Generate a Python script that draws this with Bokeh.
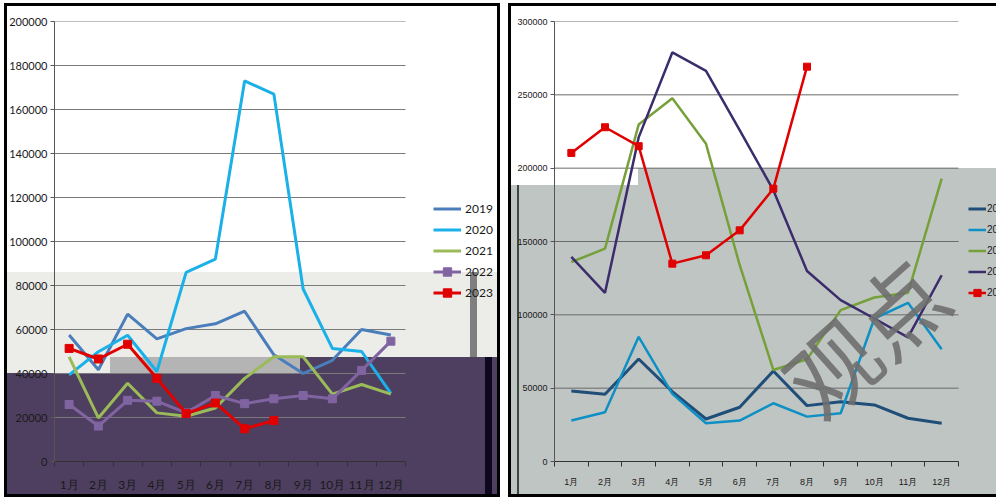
from bokeh.plotting import figure
from bokeh.models import (FixedTicker, Legend, LegendItem, Label,
                          BasicTickFormatter, Range1d)
from bokeh.layouts import row
from bokeh.embed import file_html
from bokeh.resources import INLINE

months = ["1月", "2月", "3月", "4月", "5月", "6月", "7月", "8月", "9月", "10月", "11月", "12月"]
years = ["2019", "2020", "2021", "2022", "2023"]

# left chart
left_2019 = [57500, 41700, 67000, 55700, 60400, 62600, 68300, 48500, 40000, 46000, 60000, 57500]
left_2020 = [39400, 49900, 57400, 40900, 86000, 92000, 173000, 167000, 78400, 51400, 50000, 31000]
left_2021 = [47600, 19800, 35600, 22100, 20600, 24300, 37800, 47600, 47600, 30600, 35000, 30600]
left_2022 = [25900, 16100, 27800, 27400, 22100, 30000, 26300, 28500, 30000, 28500, 41400, 54700]
left_2023 = [51400, 46600, 53300, 37800, 21800, 26600, 14900, 18600]
left_yticks = [0, 20000, 40000, 60000, 80000, 100000, 120000, 140000, 160000, 180000, 200000]

# right chart
right_2019 = [48100, 45800, 69900, 47600, 29000, 37000, 61700, 38100, 40800, 38600, 29500, 26100]
right_2020 = [27900, 33600, 85000, 46100, 26100, 27900, 39700, 30600, 32900, 97500, 108200, 76500]
right_2021 = [136000, 145100, 229700, 247600, 216600, 134000, 62400, 69700, 103200, 111800, 115000, 192800]
right_2022 = [139500, 115000, 221000, 278900, 266400, 226000, 185000, 129900, 110000, 97500, 84600, 127000]
right_2023 = [210400, 227900, 215000, 134900, 140600, 157600, 186000, 269200]
right_yticks = [0, 50000, 100000, 150000, 200000, 250000, 300000]

H = 498
N = len(months)
xs = [i + 0.5 for i in range(N)]


def css_bg(blocks, base="white"):
    layers = []
    for (x, y, w, h, c) in blocks:
        layers.append(f"linear-gradient({c},{c}) {x}px {y}px / {w}px {h}px no-repeat")
    layers.append(base)
    return ", ".join(layers)


def base(width, mbl, mbb, months_w, ymax, yticks, font_size, lab_font, grid_color, bg):
    frame_w = width - mbl
    x_end = N * frame_w / months_w
    p = figure(width=width, height=H, x_range=Range1d(0, x_end), y_range=Range1d(0, ymax),
               output_backend="svg", toolbar_location=None,
               min_border_left=mbl, min_border_right=0, min_border_top=21, min_border_bottom=mbb)
    p.styles = {"background": bg}
    p.outline_line_color = None
    p.background_fill_alpha = 0
    p.border_fill_alpha = 0
    p.xgrid.visible = False
    p.ygrid.visible = False
    p.segment(x0=[0] * len(yticks), x1=[N] * len(yticks), y0=yticks, y1=yticks,
              line_color=grid_color, line_width=1, level="underlay")
    p.xaxis.bounds = (0, N)
    p.xaxis.ticker = FixedTicker(ticks=xs, minor_ticks=list(range(N + 1)))
    p.xaxis.major_label_overrides = {x: m for x, m in zip(xs, months)}
    p.xaxis.major_tick_line_color = None
    p.xaxis.minor_tick_out = 5
    p.xaxis.minor_tick_in = 0
    p.xaxis.minor_tick_line_color = "#333333"
    p.xaxis.axis_line_color = "#333333"
    p.xaxis.major_label_standoff = 9
    p.yaxis.ticker = FixedTicker(ticks=yticks)
    p.yaxis.formatter = BasicTickFormatter(use_scientific=False)
    p.yaxis.minor_tick_line_color = None
    p.yaxis.major_tick_out = 4
    p.yaxis.major_tick_in = 0
    p.yaxis.major_tick_line_color = "#555555"
    p.yaxis.axis_line_color = "#555555"
    p.yaxis.major_label_standoff = 3
    for ax in (p.xaxis, p.yaxis):
        ax.major_label_text_font_size = font_size
        ax.major_label_text_font = lab_font
        ax.major_label_text_color = "#1a1a1a"
    return p


# ---------------- left figure ----------------
LW = 500
left_bg = css_bg([
    # frame border
    (4, 3, 3, 494, "#000000"),
    (497, 3, 3, 494, "#000000"),
    (4, 3, 496, 3, "#000000"),
    (4, 494, 496, 3, "#000000"),
    # glitch blocks
    (485, 357, 7, 137, "#0d0820"),
    (470, 272, 7, 85, "#7f7f7f"),
    (110, 357, 190, 16, "#b4b4b4"),
    (7, 357, 103, 16, "#ecece9"),
    (7, 357, 490, 137, "#4e3f60"),
    (7, 272, 490, 85, "#ecece9"),
])
pl = base(LW, 54, 37, 351, 200000, left_yticks, "11px", "Lato", "#7a7a7a", left_bg)
pl.xaxis.major_label_text_font_size = "12px"

lcol = ["#4a7ebb", "#1ab0e8", "#9bbb59", "#8064a2", "#e00000"]
lser = [left_2019, left_2020, left_2021, left_2022, left_2023]
items = []
for yr, c, ser in zip(years, lcol, lser):
    xx = xs[:len(ser)]
    rs = [pl.line(xx, ser, line_color=c, line_width=3)]
    if yr in ("2022", "2023"):
        rs.append(pl.scatter(xx, ser, marker="square", size=8, fill_color=c, line_color=c))
    items.append(LegendItem(label=yr, renderers=rs))
leg = Legend(items=items, location=(379, 158), padding=0, margin=0, spacing=0,
             label_height=21, glyph_height=21, glyph_width=28, label_standoff=4,
             label_text_font_size="12px", label_text_font="Lato", label_text_color="#1a1a1a",
             border_line_color=None, background_fill_alpha=0)
pl.add_layout(leg)

# ---------------- right figure ----------------
RW = 488
right_bg = css_bg([
    # frame border (right edge runs past the window)
    (0, 3, 3, 494, "#000000"),
    (0, 3, RW, 3, "#000000"),
    (0, 494, RW, 3, "#000000"),
    # glitch blocks
    (9, 185, 2, 309, "#3c4742"),
    (130, 168, RW - 130, 326, "#bfc5c3"),
    (3, 185, RW - 3, 309, "#bfc5c3"),
])
pr = base(RW, 46, 36, 404, 300000, right_yticks, "9px", "Liberation Sans", "#6a6a6a", right_bg)

rcol = ["#1f4e79", "#0e90c4", "#76a03a", "#3b2d6b", "#e00000"]
rwid = [3, 2.5, 2.5, 2.5, 2.5]
rser = [right_2019, right_2020, right_2021, right_2022, right_2023]
ritems = []
for yr, c, w, ser in zip(years, rcol, rwid, rser):
    xx = xs[:len(ser)]
    rs = [pr.line(xx, ser, line_color=c, line_width=w)]
    if yr == "2023":
        rs.append(pr.scatter(xx, ser, marker="square", size=7, fill_color=c, line_color=c))
    ritems.append(LegendItem(label=yr, renderers=rs))
rleg = Legend(items=ritems, location=(414, 158), padding=0, margin=0, spacing=0,
              label_height=21, glyph_height=21, glyph_width=18, label_standoff=1,
              label_text_font_size="10px", label_text_font="Liberation Sans",
              label_text_color="#1a1a1a", border_line_color=None, background_fill_alpha=0)
pr.add_layout(rleg)

pr.add_layout(Label(x=355, y=335, x_units="canvas", y_units="canvas", text="观点", angle=0.73,
                    text_font_size="90px", text_font="Noto Sans CJK SC",
                    text_color="#6e6e6e", text_alpha=0.9, text_align="center",
                    text_baseline="middle"))

layout = row(pl, pr, spacing=8)
open("out.html", "w").write(file_html(layout, INLINE))
